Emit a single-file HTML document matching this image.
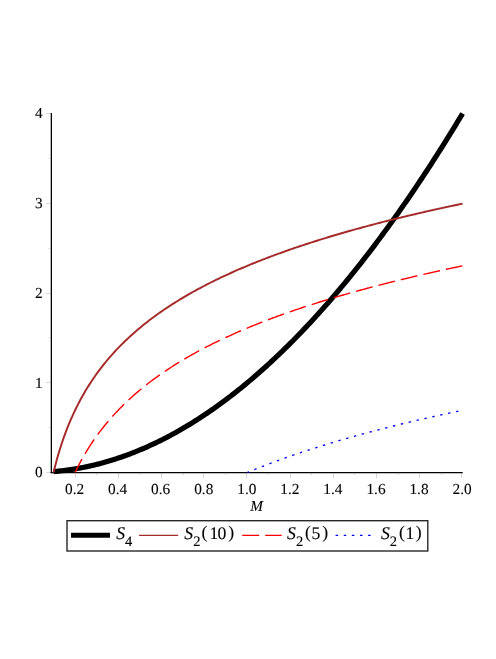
<!DOCTYPE html>
<html><head><meta charset="utf-8"><title>Plot</title>
<style>
html,body{margin:0;padding:0;background:#fff}
#wrap{width:496px;height:659px;overflow:hidden;will-change:transform}
svg{display:block}
text{font-family:"Liberation Serif",serif;fill:#000;stroke:#000;stroke-width:0.12px;text-rendering:geometricPrecision}
.i{font-style:italic}
</style></head><body><div id="wrap">
<svg width="496" height="659" viewBox="0 0 496 659">
<g stroke-width="1" fill="none">
<line x1="75.5" y1="473" x2="75.5" y2="478.0" stroke="#d8d8d8"/>
<line x1="96.5" y1="473" x2="96.5" y2="475.4" stroke="#e2e2e2"/>
<line x1="118.5" y1="473" x2="118.5" y2="478.0" stroke="#d8d8d8"/>
<line x1="139.5" y1="473" x2="139.5" y2="475.4" stroke="#e2e2e2"/>
<line x1="161.5" y1="473" x2="161.5" y2="478.0" stroke="#d8d8d8"/>
<line x1="183.5" y1="473" x2="183.5" y2="475.4" stroke="#e2e2e2"/>
<line x1="203.5" y1="473" x2="203.5" y2="478.0" stroke="#d8d8d8"/>
<line x1="225.5" y1="473" x2="225.5" y2="475.4" stroke="#e2e2e2"/>
<line x1="246.5" y1="473" x2="246.5" y2="478.0" stroke="#d8d8d8"/>
<line x1="268.5" y1="473" x2="268.5" y2="475.4" stroke="#e2e2e2"/>
<line x1="290.5" y1="473" x2="290.5" y2="478.0" stroke="#d8d8d8"/>
<line x1="311.5" y1="473" x2="311.5" y2="475.4" stroke="#e2e2e2"/>
<line x1="333.5" y1="473" x2="333.5" y2="478.0" stroke="#d8d8d8"/>
<line x1="354.5" y1="473" x2="354.5" y2="475.4" stroke="#e2e2e2"/>
<line x1="376.5" y1="473" x2="376.5" y2="478.0" stroke="#d8d8d8"/>
<line x1="398.5" y1="473" x2="398.5" y2="475.4" stroke="#e2e2e2"/>
<line x1="419.5" y1="473" x2="419.5" y2="478.0" stroke="#d8d8d8"/>
<line x1="441.5" y1="473" x2="441.5" y2="475.4" stroke="#e2e2e2"/>
<line x1="461.5" y1="473" x2="461.5" y2="478.0" stroke="#d8d8d8"/>
<line x1="46.0" y1="472.5" x2="51" y2="472.5" stroke="#d8d8d8"/>
<line x1="48.4" y1="427.5" x2="51" y2="427.5" stroke="#e2e2e2"/>
<line x1="46.0" y1="382.5" x2="51" y2="382.5" stroke="#d8d8d8"/>
<line x1="48.4" y1="337.5" x2="51" y2="337.5" stroke="#e2e2e2"/>
<line x1="46.0" y1="293.5" x2="51" y2="293.5" stroke="#d8d8d8"/>
<line x1="48.4" y1="248.5" x2="51" y2="248.5" stroke="#e2e2e2"/>
<line x1="46.0" y1="203.5" x2="51" y2="203.5" stroke="#d8d8d8"/>
<line x1="48.4" y1="158.5" x2="51" y2="158.5" stroke="#e2e2e2"/>
<line x1="46.0" y1="113.5" x2="51" y2="113.5" stroke="#d8d8d8"/>
</g>
<g stroke="#000" stroke-width="1.3" fill="none">
<line x1="51.35" y1="113" x2="51.35" y2="473.25"/>
<line x1="50.70" y1="472.60" x2="462.7" y2="472.60"/>
</g>
<path d="M53.53 471.60 L55.23 471.45 L56.94 471.30 L58.64 471.13 L60.35 470.94 L62.05 470.75 L63.76 470.55 L65.46 470.33 L67.17 470.11 L68.87 469.87 L70.57 469.62 L72.28 469.36 L73.98 469.09 L75.69 468.80 L77.39 468.51 L79.10 468.21 L80.80 467.89 L82.51 467.56 L84.21 467.22 L85.91 466.87 L87.62 466.51 L89.32 466.14 L91.03 465.75 L92.73 465.36 L94.44 464.95 L96.14 464.53 L97.85 464.11 L99.55 463.67 L101.25 463.21 L102.96 462.75 L104.66 462.28 L106.37 461.79 L108.07 461.30 L109.78 460.79 L111.48 460.27 L113.19 459.74 L114.89 459.20 L116.59 458.64 L118.30 458.08 L120.00 457.50 L121.71 456.92 L123.41 456.32 L125.12 455.71 L126.82 455.09 L128.53 454.46 L130.23 453.82 L131.94 453.16 L133.64 452.50 L135.34 451.82 L137.05 451.13 L138.75 450.43 L140.46 449.72 L142.16 449.00 L143.87 448.27 L145.57 447.53 L147.28 446.77 L148.98 446.00 L150.68 445.23 L152.39 444.44 L154.09 443.64 L155.80 442.83 L157.50 442.00 L159.21 441.17 L160.91 440.32 L162.62 439.47 L164.32 438.60 L166.02 437.72 L167.73 436.83 L169.43 435.93 L171.14 435.02 L172.84 434.09 L174.55 433.16 L176.25 432.21 L177.96 431.25 L179.66 430.28 L181.36 429.30 L183.07 428.31 L184.77 427.31 L186.48 426.30 L188.18 425.27 L189.89 424.23 L191.59 423.19 L193.30 422.13 L195.00 421.06 L196.70 419.98 L198.41 418.88 L200.11 417.78 L201.82 416.66 L203.52 415.54 L205.23 414.40 L206.93 413.25 L208.64 412.09 L210.34 410.92 L212.04 409.74 L213.75 408.54 L215.45 407.34 L217.16 406.12 L218.86 404.89 L220.57 403.65 L222.27 402.40 L223.98 401.14 L225.68 399.87 L227.38 398.59 L229.09 397.29 L230.79 395.98 L232.50 394.67 L234.20 393.34 L235.91 392.00 L237.61 390.65 L239.32 389.28 L241.02 387.91 L242.72 386.52 L244.43 385.13 L246.13 383.72 L247.84 382.30 L249.54 380.87 L251.25 379.43 L252.95 377.98 L254.66 376.51 L256.36 375.04 L258.07 373.55 L259.77 372.05 L261.47 370.54 L263.18 369.02 L264.88 367.49 L266.59 365.95 L268.29 364.40 L270.00 362.83 L271.70 361.25 L273.41 359.67 L275.11 358.07 L276.81 356.46 L278.52 354.84 L280.22 353.20 L281.93 351.56 L283.63 349.90 L285.34 348.24 L287.04 346.56 L288.75 344.87 L290.45 343.17 L292.15 341.46 L293.86 339.74 L295.56 338.00 L297.27 336.26 L298.97 334.50 L300.68 332.73 L302.38 330.95 L304.09 329.16 L305.79 327.36 L307.49 325.55 L309.20 323.73 L310.90 321.89 L312.61 320.04 L314.31 318.19 L316.02 316.32 L317.72 314.44 L319.43 312.55 L321.13 310.64 L322.83 308.73 L324.54 306.80 L326.24 304.87 L327.95 302.92 L329.65 300.96 L331.36 298.99 L333.06 297.01 L334.77 295.02 L336.47 293.01 L338.17 291.00 L339.88 288.97 L341.58 286.93 L343.29 284.88 L344.99 282.82 L346.70 280.75 L348.40 278.67 L350.11 276.58 L351.81 274.47 L353.51 272.35 L355.22 270.23 L356.92 268.09 L358.63 265.94 L360.33 263.78 L362.04 261.60 L363.74 259.42 L365.45 257.22 L367.15 255.02 L368.85 252.80 L370.56 250.57 L372.26 248.33 L373.97 246.08 L375.67 243.82 L377.38 241.54 L379.08 239.26 L380.79 236.96 L382.49 234.65 L384.19 232.33 L385.90 230.00 L387.60 227.66 L389.31 225.31 L391.01 222.95 L392.72 220.57 L394.42 218.18 L396.13 215.79 L397.83 213.38 L399.54 210.96 L401.24 208.53 L402.94 206.08 L404.65 203.63 L406.35 201.16 L408.06 198.69 L409.76 196.20 L411.47 193.70 L413.17 191.19 L414.88 188.67 L416.58 186.14 L418.28 183.59 L419.99 181.04 L421.69 178.47 L423.40 175.89 L425.10 173.30 L426.81 170.70 L428.51 168.09 L430.22 165.47 L431.92 162.84 L433.62 160.19 L435.33 157.53 L437.03 154.87 L438.74 152.19 L440.44 149.50 L442.15 146.80 L443.85 144.08 L445.56 141.36 L447.26 138.62 L448.96 135.88 L450.67 133.12 L452.37 130.35 L454.08 127.57 L455.78 124.78 L457.49 121.98 L459.19 119.16 L460.90 116.34 L462.60 113.50" fill="none" stroke="#000" stroke-width="5.2"/>
<path d="M53.53 472.50 L55.23 465.66 L56.94 459.31 L58.64 453.37 L60.35 447.81 L62.05 442.57 L63.76 437.62 L65.46 432.93 L67.17 428.47 L68.87 424.22 L70.57 420.16 L72.28 416.28 L73.98 412.56 L75.69 408.99 L77.39 405.56 L79.10 402.25 L80.80 399.06 L82.51 395.98 L84.21 393.00 L85.91 390.11 L87.62 387.32 L89.32 384.61 L91.03 381.98 L92.73 379.43 L94.44 376.94 L96.14 374.52 L97.85 372.17 L99.55 369.88 L101.25 367.64 L102.96 365.46 L104.66 363.33 L106.37 361.25 L108.07 359.21 L109.78 357.23 L111.48 355.28 L113.19 353.38 L114.89 351.51 L116.59 349.68 L118.30 347.89 L120.00 346.14 L121.71 344.42 L123.41 342.73 L125.12 341.07 L126.82 339.44 L128.53 337.84 L130.23 336.27 L131.94 334.73 L133.64 333.21 L135.34 331.72 L137.05 330.25 L138.75 328.80 L140.46 327.38 L142.16 325.98 L143.87 324.60 L145.57 323.25 L147.28 321.91 L148.98 320.59 L150.68 319.30 L152.39 318.02 L154.09 316.75 L155.80 315.51 L157.50 314.28 L159.21 313.07 L160.91 311.88 L162.62 310.70 L164.32 309.53 L166.02 308.39 L167.73 307.25 L169.43 306.13 L171.14 305.03 L172.84 303.93 L174.55 302.85 L176.25 301.79 L177.96 300.73 L179.66 299.69 L181.36 298.66 L183.07 297.64 L184.77 296.63 L186.48 295.64 L188.18 294.65 L189.89 293.68 L191.59 292.72 L193.30 291.76 L195.00 290.82 L196.70 289.89 L198.41 288.96 L200.11 288.05 L201.82 287.14 L203.52 286.24 L205.23 285.36 L206.93 284.48 L208.64 283.61 L210.34 282.75 L212.04 281.89 L213.75 281.05 L215.45 280.21 L217.16 279.38 L218.86 278.56 L220.57 277.74 L222.27 276.93 L223.98 276.13 L225.68 275.34 L227.38 274.55 L229.09 273.77 L230.79 273.00 L232.50 272.24 L234.20 271.48 L235.91 270.72 L237.61 269.98 L239.32 269.23 L241.02 268.50 L242.72 267.77 L244.43 267.05 L246.13 266.33 L247.84 265.62 L249.54 264.91 L251.25 264.21 L252.95 263.52 L254.66 262.83 L256.36 262.14 L258.07 261.46 L259.77 260.79 L261.47 260.12 L263.18 259.46 L264.88 258.80 L266.59 258.14 L268.29 257.49 L270.00 256.85 L271.70 256.21 L273.41 255.57 L275.11 254.94 L276.81 254.31 L278.52 253.69 L280.22 253.07 L281.93 252.46 L283.63 251.85 L285.34 251.24 L287.04 250.64 L288.75 250.04 L290.45 249.45 L292.15 248.86 L293.86 248.27 L295.56 247.69 L297.27 247.11 L298.97 246.54 L300.68 245.97 L302.38 245.40 L304.09 244.83 L305.79 244.27 L307.49 243.72 L309.20 243.16 L310.90 242.61 L312.61 242.07 L314.31 241.52 L316.02 240.98 L317.72 240.45 L319.43 239.91 L321.13 239.38 L322.83 238.85 L324.54 238.33 L326.24 237.81 L327.95 237.29 L329.65 236.77 L331.36 236.26 L333.06 235.75 L334.77 235.24 L336.47 234.74 L338.17 234.24 L339.88 233.74 L341.58 233.25 L343.29 232.75 L344.99 232.26 L346.70 231.78 L348.40 231.29 L350.11 230.81 L351.81 230.33 L353.51 229.85 L355.22 229.38 L356.92 228.91 L358.63 228.44 L360.33 227.97 L362.04 227.50 L363.74 227.04 L365.45 226.58 L367.15 226.12 L368.85 225.67 L370.56 225.22 L372.26 224.77 L373.97 224.32 L375.67 223.87 L377.38 223.43 L379.08 222.98 L380.79 222.55 L382.49 222.11 L384.19 221.67 L385.90 221.24 L387.60 220.81 L389.31 220.38 L391.01 219.95 L392.72 219.53 L394.42 219.10 L396.13 218.68 L397.83 218.26 L399.54 217.85 L401.24 217.43 L402.94 217.02 L404.65 216.61 L406.35 216.20 L408.06 215.79 L409.76 215.38 L411.47 214.98 L413.17 214.58 L414.88 214.18 L416.58 213.78 L418.28 213.38 L419.99 212.99 L421.69 212.59 L423.40 212.20 L425.10 211.81 L426.81 211.42 L428.51 211.04 L430.22 210.65 L431.92 210.27 L433.62 209.89 L435.33 209.51 L437.03 209.13 L438.74 208.75 L440.44 208.37 L442.15 208.00 L443.85 207.63 L445.56 207.26 L447.26 206.89 L448.96 206.52 L450.67 206.15 L452.37 205.79 L454.08 205.43 L455.78 205.07 L457.49 204.71 L459.19 204.35 L460.90 203.99 L462.60 203.63" fill="none" stroke="#a52a2a" stroke-width="1.95"/>
<path d="M75.06 472.50 L76.67 469.20 L78.29 466.01 L79.90 462.93 L81.52 459.96 L83.13 457.08 L84.75 454.29 L86.36 451.58 L87.98 448.95 L89.59 446.40 L91.21 443.92 L92.82 441.50 L94.44 439.15 L96.05 436.86 L97.67 434.63 L99.28 432.45 L100.90 430.32 L102.51 428.24 L104.13 426.21 L105.74 424.22 L107.36 422.27 L108.97 420.37 L110.58 418.51 L112.20 416.68 L113.81 414.89 L115.43 413.14 L117.04 411.42 L118.66 409.73 L120.27 408.07 L121.89 406.45 L123.50 404.85 L125.12 403.28 L126.73 401.74 L128.35 400.22 L129.96 398.73 L131.58 397.26 L133.19 395.82 L134.81 394.40 L136.42 393.00 L138.04 391.62 L139.65 390.26 L141.26 388.93 L142.88 387.61 L144.49 386.31 L146.11 385.03 L147.72 383.77 L149.34 382.53 L150.95 381.30 L152.57 380.09 L154.18 378.90 L155.80 377.72 L157.41 376.56 L159.03 375.41 L160.64 374.27 L162.26 373.15 L163.87 372.05 L165.49 370.96 L167.10 369.88 L168.72 368.81 L170.33 367.76 L171.94 366.72 L173.56 365.69 L175.17 364.67 L176.79 363.66 L178.40 362.67 L180.02 361.68 L181.63 360.71 L183.25 359.74 L184.86 358.79 L186.48 357.85 L188.09 356.92 L189.71 355.99 L191.32 355.08 L192.94 354.17 L194.55 353.28 L196.17 352.39 L197.78 351.51 L199.40 350.64 L201.01 349.78 L202.63 348.93 L204.24 348.08 L205.85 347.24 L207.47 346.41 L209.08 345.59 L210.70 344.78 L212.31 343.97 L213.93 343.17 L215.54 342.38 L217.16 341.59 L218.77 340.81 L220.39 340.04 L222.00 339.27 L223.62 338.51 L225.23 337.76 L226.85 337.01 L228.46 336.27 L230.08 335.54 L231.69 334.81 L233.31 334.08 L234.92 333.37 L236.53 332.66 L238.15 331.95 L239.76 331.25 L241.38 330.56 L242.99 329.87 L244.61 329.18 L246.22 328.50 L247.84 327.83 L249.45 327.16 L251.07 326.50 L252.68 325.84 L254.30 325.18 L255.91 324.53 L257.53 323.89 L259.14 323.25 L260.76 322.61 L262.37 321.98 L263.99 321.35 L265.60 320.73 L267.22 320.11 L268.83 319.50 L270.44 318.89 L272.06 318.28 L273.67 317.68 L275.29 317.08 L276.90 316.49 L278.52 315.90 L280.13 315.31 L281.75 314.73 L283.36 314.15 L284.98 313.58 L286.59 313.01 L288.21 312.44 L289.82 311.88 L291.44 311.32 L293.05 310.76 L294.67 310.21 L296.28 309.66 L297.90 309.11 L299.51 308.57 L301.12 308.03 L302.74 307.49 L304.35 306.96 L305.97 306.42 L307.58 305.90 L309.20 305.37 L310.81 304.85 L312.43 304.33 L314.04 303.82 L315.66 303.31 L317.27 302.80 L318.89 302.29 L320.50 301.79 L322.12 301.28 L323.73 300.79 L325.35 300.29 L326.96 299.80 L328.58 299.31 L330.19 298.82 L331.81 298.34 L333.42 297.85 L335.03 297.38 L336.65 296.90 L338.26 296.42 L339.88 295.95 L341.49 295.48 L343.11 295.02 L344.72 294.55 L346.34 294.09 L347.95 293.63 L349.57 293.17 L351.18 292.72 L352.80 292.26 L354.41 291.81 L356.03 291.36 L357.64 290.92 L359.26 290.47 L360.87 290.03 L362.49 289.59 L364.10 289.15 L365.72 288.72 L367.33 288.29 L368.94 287.86 L370.56 287.43 L372.17 287.00 L373.79 286.57 L375.40 286.15 L377.02 285.73 L378.63 285.31 L380.25 284.89 L381.86 284.48 L383.48 284.07 L385.09 283.65 L386.71 283.24 L388.32 282.84 L389.94 282.43 L391.55 282.03 L393.17 281.62 L394.78 281.22 L396.40 280.83 L398.01 280.43 L399.62 280.03 L401.24 279.64 L402.85 279.25 L404.47 278.86 L406.08 278.47 L407.70 278.08 L409.31 277.70 L410.93 277.32 L412.54 276.93 L414.16 276.55 L415.77 276.18 L417.39 275.80 L419.00 275.42 L420.62 275.05 L422.23 274.68 L423.85 274.31 L425.46 273.94 L427.08 273.57 L428.69 273.20 L430.31 272.84 L431.92 272.48 L433.53 272.12 L435.15 271.76 L436.76 271.40 L438.38 271.04 L439.99 270.68 L441.61 270.33 L443.22 269.98 L444.84 269.62 L446.45 269.27 L448.07 268.92 L449.68 268.58 L451.30 268.23 L452.91 267.89 L454.53 267.54 L456.14 267.20 L457.76 266.86 L459.37 266.52 L460.99 266.18 L462.60 265.84" fill="none" stroke="#ff0000" stroke-width="1.4" stroke-dasharray="17 6.13" stroke-dashoffset="1.9"/>
<path d="M247.30 472.50 L248.20 472.13 L249.09 471.76 L249.99 471.39 L250.89 471.02 L251.79 470.65 L252.68 470.28 L253.58 469.92 L254.48 469.56 L255.37 469.20 L256.27 468.84 L257.17 468.48 L258.07 468.12 L258.96 467.77 L259.86 467.41 L260.76 467.06 L261.65 466.71 L262.55 466.36 L263.45 466.01 L264.34 465.66 L265.24 465.32 L266.14 464.97 L267.04 464.63 L267.93 464.29 L268.83 463.95 L269.73 463.61 L270.62 463.27 L271.52 462.93 L272.42 462.60 L273.32 462.26 L274.21 461.93 L275.11 461.60 L276.01 461.27 L276.90 460.94 L277.80 460.61 L278.70 460.28 L279.60 459.96 L280.49 459.63 L281.39 459.31 L282.29 458.99 L283.18 458.66 L284.08 458.35 L284.98 458.03 L285.87 457.71 L286.77 457.39 L287.67 457.08 L288.57 456.76 L289.46 456.45 L290.36 456.14 L291.26 455.83 L292.15 455.52 L293.05 455.21 L293.95 454.90 L294.85 454.59 L295.74 454.29 L296.64 453.98 L297.54 453.68 L298.43 453.37 L299.33 453.07 L300.23 452.77 L301.12 452.47 L302.02 452.17 L302.92 451.88 L303.82 451.58 L304.71 451.28 L305.61 450.99 L306.51 450.70 L307.40 450.40 L308.30 450.11 L309.20 449.82 L310.10 449.53 L310.99 449.24 L311.89 448.95 L312.79 448.67 L313.68 448.38 L314.58 448.09 L315.48 447.81 L316.38 447.53 L317.27 447.24 L318.17 446.96 L319.07 446.68 L319.96 446.40 L320.86 446.12 L321.76 445.84 L322.66 445.57 L323.55 445.29 L324.45 445.01 L325.35 444.74 L326.24 444.46 L327.14 444.19 L328.04 443.92 L328.93 443.65 L329.83 443.38 L330.73 443.11 L331.63 442.84 L332.52 442.57 L333.42 442.30 L334.32 442.03 L335.21 441.77 L336.11 441.50 L337.01 441.24 L337.91 440.98 L338.80 440.71 L339.70 440.45 L340.60 440.19 L341.49 439.93 L342.39 439.67 L343.29 439.41 L344.19 439.15 L345.08 438.89 L345.98 438.64 L346.88 438.38 L347.77 438.13 L348.67 437.87 L349.57 437.62 L350.46 437.36 L351.36 437.11 L352.26 436.86 L353.16 436.61 L354.05 436.36 L354.95 436.11 L355.85 435.86 L356.74 435.61 L357.64 435.36 L358.54 435.12 L359.44 434.87 L360.33 434.63 L361.23 434.38 L362.13 434.14 L363.02 433.89 L363.92 433.65 L364.82 433.41 L365.72 433.17 L366.61 432.93 L367.51 432.69 L368.41 432.45 L369.30 432.21 L370.20 431.97 L371.10 431.73 L371.99 431.49 L372.89 431.26 L373.79 431.02 L374.69 430.79 L375.58 430.55 L376.48 430.32 L377.38 430.08 L378.27 429.85 L379.17 429.62 L380.07 429.39 L380.97 429.16 L381.86 428.93 L382.76 428.70 L383.66 428.47 L384.55 428.24 L385.45 428.01 L386.35 427.78 L387.25 427.56 L388.14 427.33 L389.04 427.10 L389.94 426.88 L390.83 426.65 L391.73 426.43 L392.63 426.21 L393.52 425.98 L394.42 425.76 L395.32 425.54 L396.22 425.32 L397.11 425.10 L398.01 424.88 L398.91 424.66 L399.80 424.44 L400.70 424.22 L401.60 424.00 L402.50 423.78 L403.39 423.57 L404.29 423.35 L405.19 423.13 L406.08 422.92 L406.98 422.70 L407.88 422.49 L408.78 422.27 L409.67 422.06 L410.57 421.85 L411.47 421.64 L412.36 421.42 L413.26 421.21 L414.16 421.00 L415.05 420.79 L415.95 420.58 L416.85 420.37 L417.75 420.16 L418.64 419.95 L419.54 419.75 L420.44 419.54 L421.33 419.33 L422.23 419.13 L423.13 418.92 L424.03 418.71 L424.92 418.51 L425.82 418.30 L426.72 418.10 L427.61 417.90 L428.51 417.69 L429.41 417.49 L430.31 417.29 L431.20 417.09 L432.10 416.88 L433.00 416.68 L433.89 416.48 L434.79 416.28 L435.69 416.08 L436.58 415.88 L437.48 415.68 L438.38 415.49 L439.28 415.29 L440.17 415.09 L441.07 414.89 L441.97 414.70 L442.86 414.50 L443.76 414.31 L444.66 414.11 L445.56 413.91 L446.45 413.72 L447.35 413.53 L448.25 413.33 L449.14 413.14 L450.04 412.95 L450.94 412.75 L451.84 412.56 L452.73 412.37 L453.63 412.18 L454.53 411.99 L455.42 411.80 L456.32 411.61 L457.22 411.42 L458.11 411.23 L459.01 411.04 L459.91 410.85 L460.81 410.66 L461.70 410.48 L462.60 410.29" fill="none" stroke="#0000ff" stroke-width="1.35" stroke-dasharray="2.4 5.68" stroke-dashoffset="0.5"/>
<g font-size="15.3px" text-anchor="middle">
<text x="74.56" y="493.5">0.2</text>
<text x="117.62" y="493.5">0.4</text>
<text x="160.68" y="493.5">0.6</text>
<text x="203.74" y="493.5">0.8</text>
<text x="246.80" y="493.5">1.0</text>
<text x="289.86" y="493.5">1.2</text>
<text x="332.92" y="493.5">1.4</text>
<text x="375.98" y="493.5">1.6</text>
<text x="419.04" y="493.5">1.8</text>
<text x="462.10" y="493.5">2.0</text>
</g>
<g font-size="15.3px" text-anchor="end">
<text x="42.7" y="477.45">0</text>
<text x="42.7" y="387.70">1</text>
<text x="42.7" y="297.95">2</text>
<text x="42.7" y="208.20">3</text>
<text x="42.7" y="118.45">4</text>
</g>
<text x="250.2" y="511" font-size="15.2px" class="i">M</text>
<rect x="67" y="520.7" width="360.8" height="30.3" fill="#fff" stroke="#282828" stroke-width="1.4"/>
<line x1="71" y1="535.30" x2="110" y2="535.30" stroke="#000" stroke-width="5"/>
<line x1="139.05" y1="535.35" x2="178.2" y2="535.35" stroke="#a52a2a" stroke-width="1.2"/>
<line x1="242.2" y1="535.35" x2="281.7" y2="535.35" stroke="#ff0000" stroke-width="1.25" stroke-dasharray="17 6"/>
<line x1="335.6" y1="535.35" x2="371" y2="535.35" stroke="#0000ff" stroke-width="1.4" stroke-dasharray="2.5 5.63"/>
<text x="116.30" y="539.00" font-size="17.7px" class="i">S</text>
<text x="125.00" y="546.30" font-size="14.5px">4</text>
<text x="184.20" y="539.00" font-size="17.7px" class="i">S</text>
<text x="193.30" y="546.30" font-size="14.5px">2</text>
<text x="201.50" y="538.40" font-size="17.7px">(</text>
<text x="209.40" y="539.00" font-size="17.7px">1</text>
<text x="217.50" y="539.00" font-size="17.7px">0</text>
<text x="228.20" y="538.40" font-size="17.7px">)</text>
<text x="287.00" y="539.00" font-size="17.7px" class="i">S</text>
<text x="296.00" y="546.30" font-size="14.5px">2</text>
<text x="304.90" y="538.40" font-size="17.7px">(</text>
<text x="311.40" y="539.00" font-size="17.7px">5</text>
<text x="322.20" y="538.40" font-size="17.7px">)</text>
<text x="381.00" y="539.00" font-size="17.7px" class="i">S</text>
<text x="389.80" y="546.30" font-size="14.5px">2</text>
<text x="399.00" y="538.40" font-size="17.7px">(</text>
<text x="405.50" y="539.00" font-size="17.7px">1</text>
<text x="415.85" y="538.40" font-size="17.7px">)</text>
</svg></div></body></html>
